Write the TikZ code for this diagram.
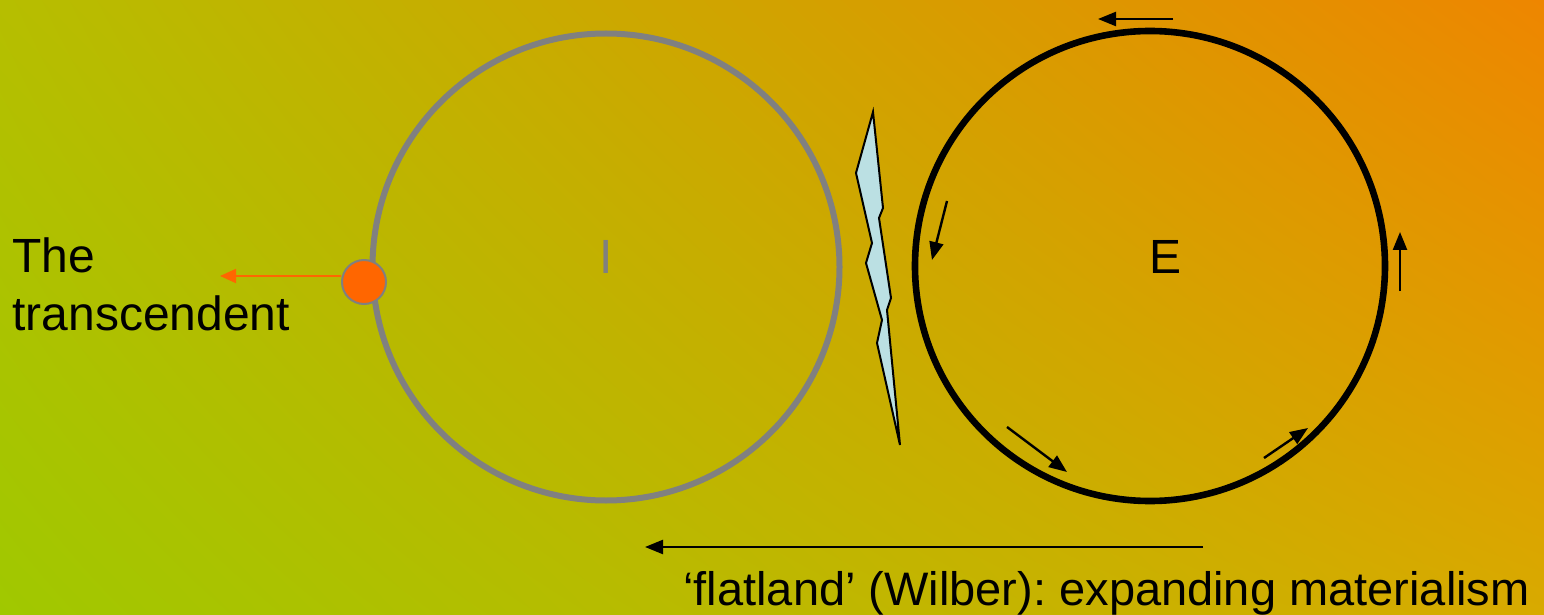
\documentclass[tikz,border=0pt]{standalone}
\usepackage{fontspec}
\setmainfont{Liberation Sans}
\usetikzlibrary{arrows.meta,shadings}
\definecolor{bgTL}{RGB}{182,190,0}
\definecolor{bgTR}{RGB}{238,134,0}
\definecolor{bgBL}{RGB}{160,200,0}
\definecolor{bgBR}{RGB}{216,170,0}
\definecolor{ringgray}{RGB}{128,128,128}
\definecolor{dotorange}{RGB}{255,102,0}
\definecolor{boltblue}{RGB}{187,224,227}
\frenchspacing
\tikzset{
  lbl/.style={font=\fontsize{24}{29}\selectfont, inner sep=0pt},
  flow/.style={black, line width=1.2pt, -{Triangle[length=9pt,width=7pt]}},
  bigflow/.style={black, line width=1.2pt, -{Triangle[length=9pt,width=7pt]}},
}
\begin{document}
\begin{tikzpicture}[x=0.5pt,y=-0.5pt]
\useasboundingbox (0,0) rectangle (1544,615);
\shade[lower left=bgBL, upper left=bgTL, upper right=bgTR, lower right=bgBR] (0,615) rectangle (1544,0);
% circles
\node[circle, draw=ringgray, line width=3pt, minimum size=233.5pt] (I) at (606,267) {};
\node[circle, draw=black, line width=3.3pt, minimum size=235pt] (E) at (1150,266) {};
\node[lbl, text=ringgray, anchor=base] (Ilbl) at (606,273) {I};
\node[lbl, anchor=base] (Elbl) at (1165,273) {E};
% transcendent
\node[circle, fill=dotorange, draw=ringgray, line width=1pt, minimum size=22pt, inner sep=0pt] (dot) at (364,282) {};
\coordinate (tipT) at (220,276);
\draw[dotorange, line width=1pt, -{Triangle[length=8pt,width=7pt]}] (dot.west|-0,276) -- (tipT);
\node[lbl, anchor=base west, align=left] (trans) at (12,330) {The\\transcendent};
% bolt
\draw[fill=boltblue, line width=1pt, line join=miter]
 (873,112) -- (856,173) -- (872,243) -- (866,263) -- (882,320) -- (877,343) -- (900,445)
 -- (887,310) -- (891,298) -- (879,218) -- (883,208) -- cycle;
% arrows on E
\coordinate (a1s) at (947,201); \coordinate (a1e) at (932,260);
\coordinate (a2s) at (1173,19); \coordinate (a2e) at (1098,19);
\coordinate (a3s) at (1400,291); \coordinate (a3e) at (1400,232);
\coordinate (a4s) at (1007,427); \coordinate (a4e) at (1067,472);
\coordinate (a5s) at (1264,458); \coordinate (a5e) at (1308,428);
\draw[flow] (a1s) -- (a1e);
\draw[flow] (a2s) -- (a2e);
\draw[flow] (a3s) -- (a3e);
\draw[flow] (a4s) -- (a4e);
\draw[flow] (a5s) -- (a5e);
% flatland
\coordinate (fs) at (1203,547); \coordinate (fe) at (645,547);
\draw[bigflow] (fs) -- (fe);
\node[lbl, font=\fontsize{23.5}{28}\selectfont, anchor=base west] (flat) at (683,605) {‘flatland’ (Wilber): expanding materialism};
\end{tikzpicture}
\end{document}
